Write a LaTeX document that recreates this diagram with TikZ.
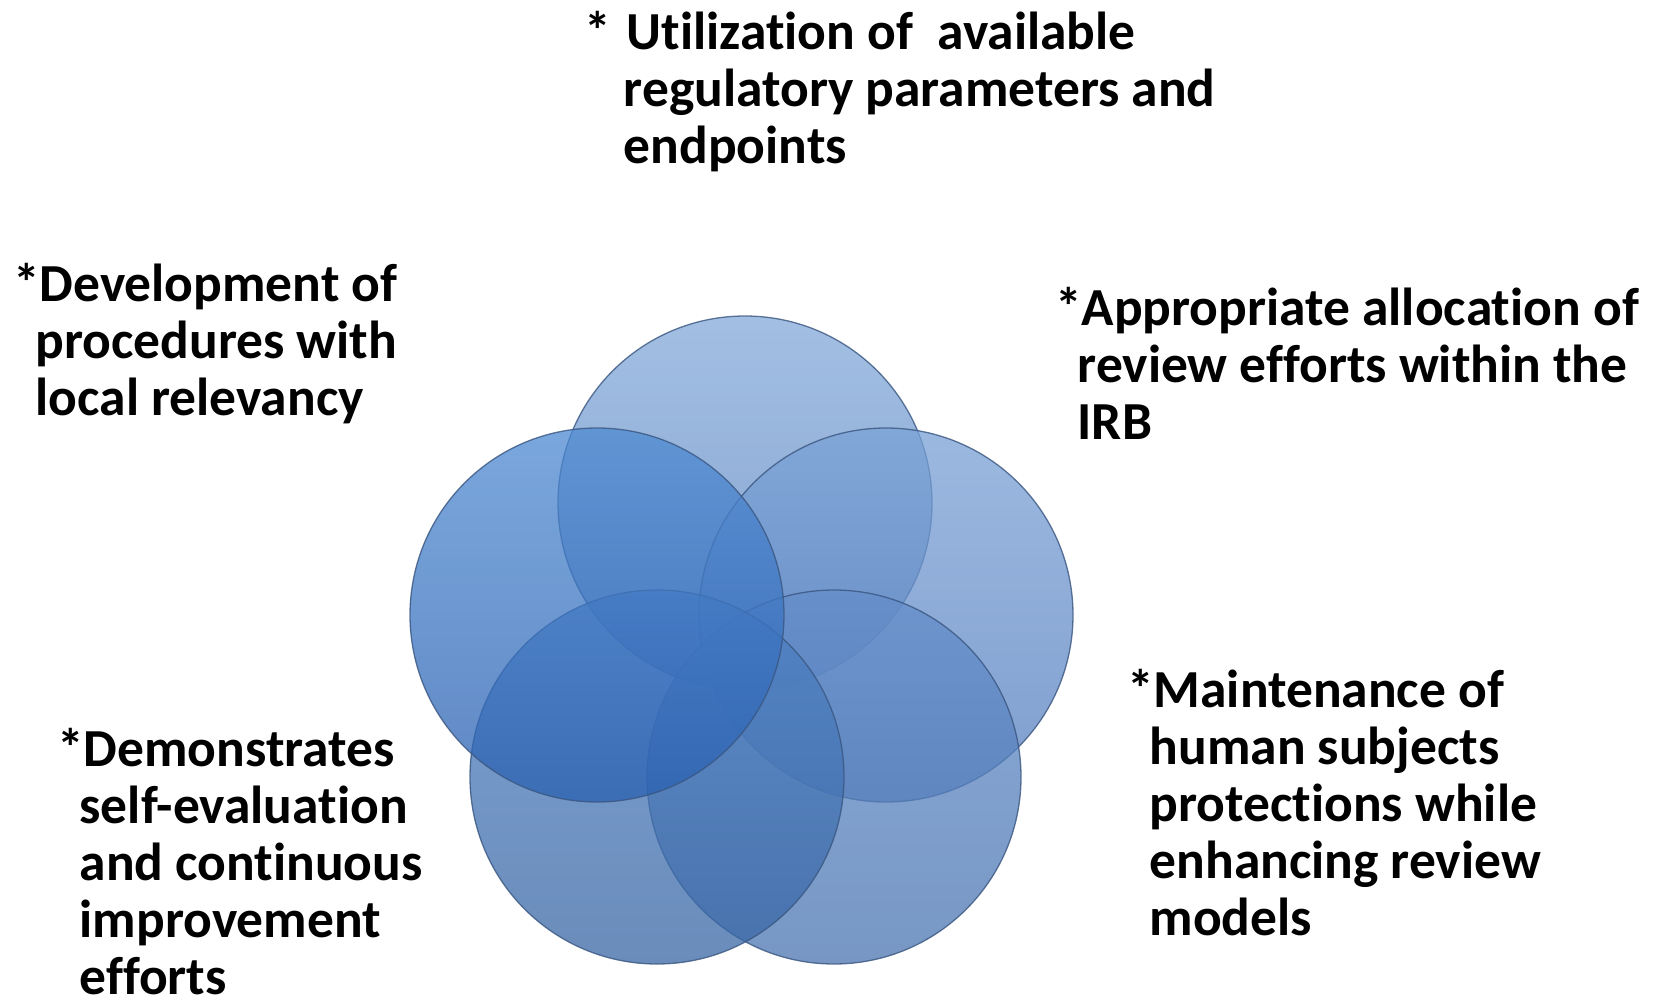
\documentclass[tikz,border=0pt]{standalone}
\usepackage{fontspec}
\setmainfont[Ligatures=NoCommon]{Carlito}
% indent of continuation lines, just under the width of the asterisk
\newcommand\contindent{\hphantom{*}\kern-4pt}
\begin{document}
\begin{tikzpicture}[x=1pt,y=-1pt,
  ring/.style={circle, minimum size=374pt, inner sep=0pt,
    draw=ringedge, line width=1.3pt, draw opacity=0.8, fill opacity=0.75},
  item/.style={anchor=base west, inner sep=0pt, outer sep=0pt,
    font=\fontsize{53.5}{57}\selectfont\bfseries}]
  \definecolor{ringedge}{RGB}{58,86,128}
  \definecolor{toptop}{RGB}{132,170,218}
  \definecolor{topbot}{RGB}{90,130,190}
  \definecolor{lefttop}{RGB}{78,138,210}
  \definecolor{leftbot}{RGB}{42,96,176}
  \definecolor{righttop}{RGB}{122,162,214}
  \definecolor{rightbot}{RGB}{86,126,190}
  \definecolor{bltop}{RGB}{80,130,196}
  \definecolor{blbot}{RGB}{56,102,164}
  \definecolor{brtop}{RGB}{100,142,202}
  \definecolor{brbot}{RGB}{74,116,176}
  \useasboundingbox (0,0) rectangle (1654,998);
  \fill[white] (0,0) rectangle (1654,998);

  % five overlapping translucent circles, each lighter at its top
  \node[ring, top color=toptop, bottom color=topbot]     (ctop)   at (745,503) {};
  \node[ring, top color=righttop, bottom color=rightbot] (cright) at (886,615) {};
  \node[ring, top color=brtop, bottom color=brbot]       (cbr)    at (834,777) {};
  \node[ring, top color=bltop, bottom color=blbot]       (cbl)    at (657,777) {};
  \node[ring, top color=lefttop, bottom color=leftbot]   (cleft)  at (597,615) {};

  % labels
  \node[item] (ttop) at (584,50) {\begin{tabular}[t]{@{}l@{}}*~\kern4pt Utilization of~~available\\
    \hphantom{*~}\kern1pt regulatory parameters and\\ \hphantom{*~}\kern1pt endpoints\end{tabular}};
  \node[item] (tleft) at (13,301) {\begin{tabular}[t]{@{}l@{}}*Development of\\
    \contindent procedures with\\ \contindent local relevancy\end{tabular}};
  \node[item] (tright) at (1055,325) {\begin{tabular}[t]{@{}l@{}}*Appropriate allocation of\\
    \contindent review efforts within the\\ \contindent IRB\end{tabular}};
  \node[item] (tbr) at (1127,707) {\begin{tabular}[t]{@{}l@{}}*Maintenance of\\
    \contindent human subjects\\ \contindent protections while\\
    \contindent enhancing review\\ \contindent models\end{tabular}};
  \node[item] (tbl) at (57,766) {\begin{tabular}[t]{@{}l@{}}*Demonstrates\\
    \contindent self-evaluation\\ \contindent and continuous\\
    \contindent improvement\\ \contindent efforts\end{tabular}};
\end{tikzpicture}
\end{document}
